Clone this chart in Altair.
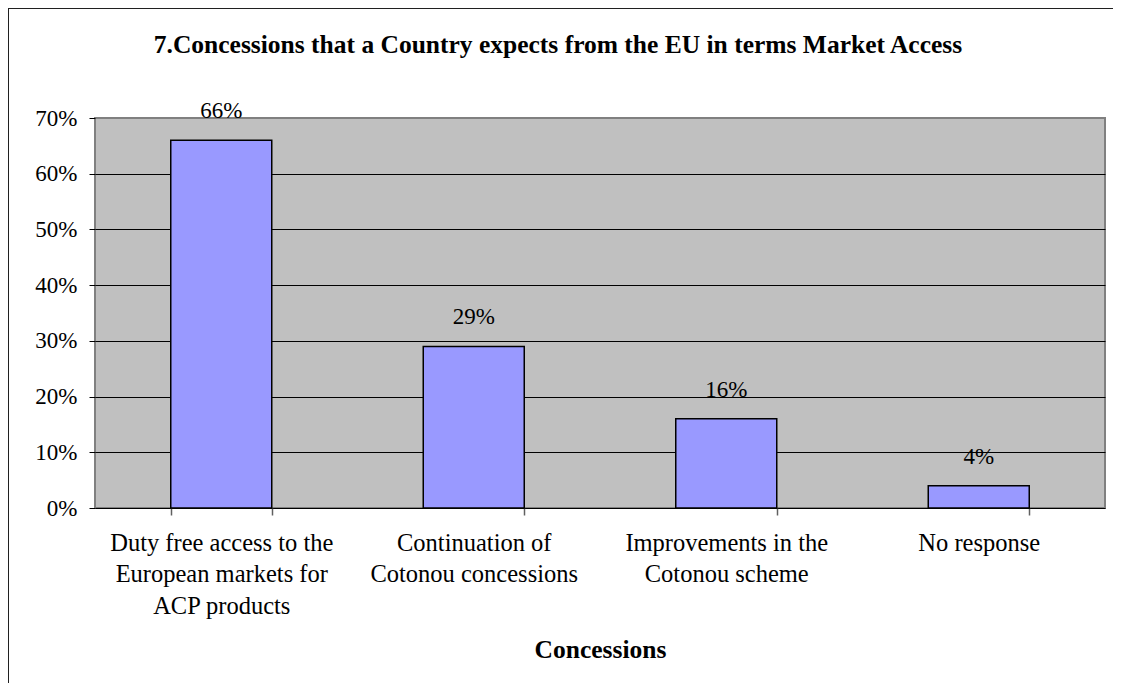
import altair as alt
import pandas as pd

categories = [
    "Duty free access to the|European markets for|ACP products",
    "Continuation of|Cotonou concessions",
    "Improvements in the|Cotonou scheme",
    "No response",
]
values = [0.66, 0.29, 0.16, 0.04]
y_ticks = [0, 0.1, 0.2, 0.3, 0.4, 0.5, 0.6, 0.7]

title_text = "7.Concessions that a Country expects from the EU in terms Market Access"
x_title = "Concessions"

df = pd.DataFrame({"cat": categories, "val": values})

FONT = "Liberation Serif"

x_enc = alt.X(
    "cat:N",
    sort=categories,
    scale=alt.Scale(paddingInner=0.6, paddingOuter=0.3),
    axis=alt.Axis(
        title=x_title,
        labelAngle=0,
        labelExpr="split(datum.label, '|')",
        labelFont=FONT,
        labelFontSize=24.5,
        labelLineHeight=31.5,
        labelLimit=0,
        labelColor="black",
        labelPadding=16,
        labelBaseline="top",
        tickBand="extent",
        tickSize=7,
        tickColor="#606060",
        tickWidth=1.5,
        domain=False,
        titleFont=FONT,
        titleFontSize=25.5,
        titleFontWeight="bold",
        titleColor="black",
        titlePadding=20,
    ),
)

y_enc = alt.Y(
    "val:Q",
    scale=alt.Scale(domain=[0, 0.7], nice=False),
    axis=alt.Axis(
        title=None,
        values=y_ticks,
        format=".0%",
        labelFont=FONT,
        labelFontSize=23,
        labelColor="black",
        labelPadding=12,
        tickSize=6,
        tickColor="black",
        grid=True,
        gridColor=alt.condition("datum.value >= 0.69", alt.value("#808080"), alt.value("black")),
        gridWidth=1,
        domain=False,
    ),
)

base = alt.Chart(df).encode(x=x_enc, y=y_enc)

bars = base.mark_bar(color="#9999FF", stroke="black", strokeWidth=1.5)

labels = base.mark_text(
    font=FONT, fontSize=23, color="black", baseline="middle", dy=-29
).encode(text=alt.Text("val:Q", format=".0%"))

one = pd.DataFrame({"a": [0]})

border_top = alt.Chart(one).mark_rule(color="#202020", strokeWidth=2).encode(
    x=alt.value(-87), x2=alt.value(1300), y=alt.value(-110)
)
border_left = alt.Chart(one).mark_rule(color="#202020", strokeWidth=2).encode(
    x=alt.value(-87), y=alt.value(-110), y2=alt.value(900)
)

title = alt.Chart(one).mark_text(
    text=title_text,
    font=FONT,
    fontSize=25.5,
    fontWeight="bold",
    color="black",
    align="center",
    baseline="middle",
).encode(x=alt.value(463), y=alt.value(-73))

chart = (
    alt.layer(border_top, border_left, title, bars, labels)
    .properties(
        width=1010,
        height=390,
        autosize=alt.AutoSizeParams(type="none"),
        padding={"left": 87, "top": 110, "right": 8, "bottom": 175},
        background="white",
    )
    .configure_view(fill="#C0C0C0", stroke="#808080", strokeWidth=2)
)

chart.save("out.html", embed_options={"renderer": "svg", "actions": False})
